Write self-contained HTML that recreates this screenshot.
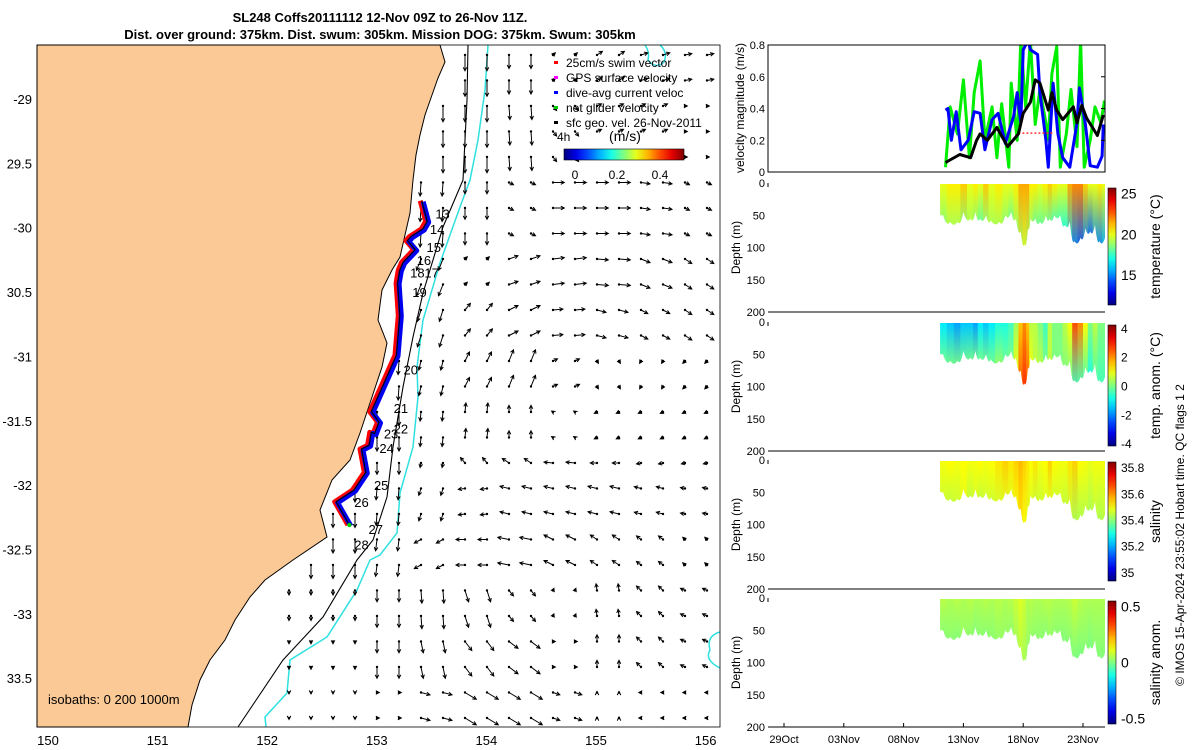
<!DOCTYPE html>
<html><head><meta charset="utf-8"><style>
body{margin:0;background:#fff}svg{display:block;font-family:"Liberation Sans",sans-serif}
</style></head><body>
<svg id="s" width="1200" height="750" viewBox="0 0 1200 750">
<defs id="defs"></defs>
<text x="380" y="22" text-anchor="middle" font-weight="bold" font-size="13">SL248 Coffs20111112 12-Nov 09Z to 26-Nov 11Z.</text>
<text x="380" y="39" text-anchor="middle" font-weight="bold" font-size="13">Dist. over ground: 375km. Dist. swum: 305km. Mission DOG: 375km. Swum: 305km</text>
<g id="map"></g>
<g id="right"></g>
<text transform="translate(1184,535) rotate(-90)" text-anchor="middle" font-size="12">© IMOS 15-Apr-2024 23:55:02 Hobart time. QC flags 1  2</text>
</svg>
<script>
// ---- map data ----
const lonTicks=[150,151,152,153,154,155,156];
const latTicks=[-29,-29.5,-30,-30.5,-31,-31.5,-32,-32.5,-33,-33.5];
const latTickLabels=["-29","29.5","-30","30.5","-31","-31.5","-32","-32.5","-33","33.5"];
const fieldLats=[-28.8,-29.3,-29.8,-30.3,-30.7,-31.1,-31.5,-31.8,-32.1,-32.5,-32.9,-33.3,-33.7];
const fieldLons=[152.6,153.1,153.6,154.0,154.4,154.8,155.2,155.6,156.0];
const fieldU=[
[0,0,0,0,0,0.05,0.12,0.15,0.15],
[0,0,0,0,0.02,0.08,0.1,0.1,0.05],
[0,0,-0.02,0,0.1,0.25,0.25,0.2,0.1],
[0,0,-0.1,0.05,0.2,0.25,0.25,0.2,0.15],
[0,0,-0.08,0.12,0.2,0.22,0.2,0.15,0.15],
[0,-0.02,-0.05,0.1,0.1,0.1,0.03,-0.03,-0.05],
[0,0,-0.02,0.02,0,-0.03,-0.06,-0.06,-0.06],
[0,0,-0.02,-0.1,-0.15,-0.2,-0.15,-0.1,-0.08],
[0,-0.02,-0.05,-0.15,-0.2,-0.2,-0.2,-0.15,-0.1],
[0,-0.03,-0.15,-0.2,-0.25,-0.2,-0.15,-0.1,-0.05],
[0,0,0.02,0.08,0.1,0.02,-0.02,-0.1,-0.1],
[0,0,0.05,0.15,0.2,0.05,0,-0.1,-0.1],
[0,0.05,0.2,0.25,0.25,0.15,0,-0.05,-0.05]];
const fieldV=[
[-0.3,-0.3,-0.35,-0.35,-0.3,0.05,0.08,0.05,0.03],
[-0.3,-0.3,-0.35,-0.35,-0.3,-0.1,0.05,0.05,0],
[-0.3,-0.3,-0.3,-0.25,-0.05,0,0,-0.03,-0.05],
[-0.3,-0.3,-0.25,0.05,0.07,0.03,-0.02,-0.08,-0.1],
[-0.3,-0.3,-0.25,0.15,0.1,0.02,-0.05,-0.08,-0.1],
[-0.3,-0.3,-0.2,0.2,0.25,0.05,-0.05,-0.05,-0.05],
[-0.3,-0.3,-0.2,0.2,0.15,0.02,-0.03,-0.03,-0.03],
[-0.3,-0.25,-0.1,0.12,0.1,0.02,0,-0.02,-0.02],
[-0.3,-0.25,-0.15,-0.02,0.05,0.05,0.05,0.04,0.02],
[-0.3,-0.25,-0.08,0,0.05,0.1,0.1,0.08,0.05],
[-0.1,-0.25,-0.28,-0.25,-0.12,0.05,0.15,0.1,0.05],
[-0.05,-0.25,-0.25,-0.2,-0.15,0,0.15,0.1,0.05],
[-0.03,0,-0.05,-0.15,-0.15,-0.05,0.02,0,0]];
const trackLon=[153.41,153.46,153.42,153.31,153.28,153.35,153.24,153.21,153.19,153.21,153.18,153.07,152.95,153.02,152.98,152.95,152.93,152.86,152.9,152.79,152.63,152.75];
const trackLat=[-29.79,-29.95,-30.01,-30.07,-30.1,-30.17,-30.27,-30.33,-30.43,-30.68,-30.99,-31.2,-31.43,-31.51,-31.6,-31.59,-31.69,-31.72,-31.9,-32.04,-32.13,-32.31];
const dayLabels=["13","14","15","16","18","17","19","20","21","22","23","24","25","26","27","28"];
const dayLon=[153.6,153.55,153.52,153.43,153.37,153.5,153.39,153.31,153.22,153.22,153.13,153.09,153.04,152.86,152.99,152.86];
const dayLat=[-29.89,-30.01,-30.15,-30.25,-30.35,-30.35,-30.5,-31.1,-31.4,-31.56,-31.6,-31.71,-32.0,-32.13,-32.34,-32.46];
// ---- time series data (t = days since 29 Oct) ----
const timeTicks=[0,5,10,15,20,25];
const timeTickLabels=["29Oct","03Nov","08Nov","13Nov","18Nov","23Nov"];
const velTicks=[0,0.2,0.4,0.6,0.8];
const blackT=[13.5,14.7,15.6,16.1,16.4,17.0,17.8,18.7,19.6,20.0,20.6,21.0,21.4,22.1,22.4,22.8,23.3,24.2,24.5,24.9,25.3,26.2,26.7];
const blackV=[0.06,0.11,0.09,0.2,0.24,0.2,0.28,0.16,0.24,0.37,0.44,0.58,0.56,0.39,0.5,0.39,0.33,0.41,0.31,0.42,0.34,0.23,0.36];
const blueT=[13.5,13.7,14.0,14.4,14.8,15.4,15.9,16.4,16.8,17.4,17.9,18.5,19.2,19.5,19.8,20.0,20.4,20.6,21.2,21.4,21.9,22.1,22.5,22.9,23.3,23.9,24.5,24.7,25.2,25.6,26.2,26.6,26.7];
const blueV=[0.39,0.4,0.2,0.38,0.14,0.2,0.38,0.37,0.14,0.33,0.37,0.18,0.35,0.5,0.31,0.77,0.83,0.77,0.74,0.5,0.2,0.03,0.56,0.24,0.09,0.03,0.31,0.53,0.3,0.04,0.03,0.1,0.3];
const greenT=[13.5,13.9,14.5,15.0,15.5,15.9,16.4,16.8,17.4,17.8,18.2,18.8,19.0,19.5,19.8,20.2,20.6,21.0,21.4,21.9,22.1,22.4,22.8,23.1,23.6,24.0,24.5,24.8,25.1,25.6,26.0,26.5,26.8];
const greenV=[0.03,0.41,0.24,0.58,0.09,0.5,0.7,0.2,0.41,0.09,0.43,0.03,0.56,0.2,0.83,0.41,0.83,0.3,0.52,0.31,0.2,0.62,0.79,0.03,0.24,0.52,0.16,0.83,0.03,0.2,0.41,0.31,0.45];
const redT=[19.6,22.6];
const redV=[0.245,0.245];
const depthTicks=[0,50,100,150,200];
const hmT=[13.3,13.9,14.5,15.0,15.6,16.0,16.4,16.9,17.3,18.0,18.5,19.0,19.4,19.8,20.1,20.4,20.6,21.0,21.4,21.9,22.2,22.6,23.1,23.5,23.9,24.3,24.8,25.2,25.6,26.0,26.4,26.8];
const hmDepth=[50,60,60,45,55,45,55,50,58,60,50,45,55,75,95,70,55,55,60,50,55,50,50,65,60,90,85,70,75,65,90,85];
const tempTop=[20,20.5,20.5,21,20,20.5,20,21,20,20.5,20,20,20.5,21.5,21.5,21.5,20.5,20.5,20,20.5,21,20.5,20,20,21.5,22,22,21,20,20,20.5,20];
const tempBot=[18.5,19,19,18.5,19,18.5,18,18.5,19,19,18.5,18,18.5,19,19.5,19,18.5,18,18,18,18,17.5,17,17,16,15,14.5,15,14.5,15,15,15.5];
const anomTop=[-1.2,-1.5,-1.8,-1.5,-1.5,-1.8,-1.2,-1.5,-1.2,-0.8,-0.8,-0.5,0.3,1.5,2,1.5,0.5,0.5,0,-0.5,0.5,0,0,0.5,1,2.5,2,1,0,0.5,0,0];
const anomBot=[0,0,0,0,0,0,0,0,0,0.3,0,0,1,2.5,2.8,2.5,1,0.5,0.5,0,0.5,0,0,0,-0.3,-0.5,-0.5,-0.5,-0.8,-0.5,-0.5,-0.5];
const salTop=[35.49,35.5,35.49,35.5,35.49,35.49,35.5,35.49,35.5,35.52,35.54,35.52,35.54,35.56,35.54,35.52,35.5,35.52,35.49,35.5,35.54,35.5,35.49,35.49,35.52,35.54,35.5,35.49,35.48,35.49,35.49,35.49];
const salBot=[35.45,35.44,35.45,35.47,35.44,35.46,35.44,35.45,35.45,35.46,35.47,35.47,35.49,35.52,35.49,35.47,35.46,35.45,35.45,35.46,35.47,35.45,35.45,35.44,35.44,35.42,35.42,35.43,35.42,35.43,35.42,35.43];
const saTop=[0.06,0.05,0.06,0.05,0.06,0.05,0.05,0.06,0.05,0.06,0.05,0.06,0.08,0.1,0.08,0.05,0.06,0.05,0.05,0.06,0.06,0.05,0.05,0.05,0.06,0.08,0.06,0.05,0.05,0.05,0.05,0.05];
const saBot=[0,0.01,0,0.02,0.01,0,0.01,0,0.01,0.02,0.02,0.01,0.03,0.05,0.04,0.02,0.01,0.01,0.01,0,0.02,0.01,0,0,-0.01,-0.01,-0.01,0,-0.01,0,0,0];
const tempCbTicks=[15,20,25],anomCbTicks=[-4,-2,0,2,4],salCbTicks=[35,35.2,35.4,35.6,35.8],saCbTicks=[-0.5,0,0.5];
const salCbLabels=["35","35.2","35.4","35.6","35.8"];

const NS='http://www.w3.org/2000/svg';
function mk(tag,attrs,parent,txt){const e=document.createElementNS(NS,tag);for(const k in attrs)e.setAttribute(k,attrs[k]);if(txt!==undefined)e.textContent=txt;parent.appendChild(e);return e;}
function jet(v){v=Math.max(0,Math.min(1,v));const r=Math.max(0,Math.min(1,1.5-Math.abs(4*v-3))),g=Math.max(0,Math.min(1,1.5-Math.abs(4*v-2))),b=Math.max(0,Math.min(1,1.5-Math.abs(4*v-1)));return `rgb(${Math.round(r*255)},${Math.round(g*255)},${Math.round(b*255)})`;}
const defs=document.getElementById('defs');
function jetGrad(id,x1,y1,x2,y2){const g=mk('linearGradient',{id:id,x1:x1,y1:y1,x2:x2,y2:y2},defs);for(let i=0;i<=10;i++)mk('stop',{offset:i/10,'stop-color':jet(i/10)},g);}
jetGrad('jetH',0,0,1,0);jetGrad('jetV',0,1,0,0);

// ---- map ----
const map=document.getElementById('map');
const lonX=l=>48+(l-150)*109.6, latY=la=>99+(-29-la)*128.7;
const MX0=37,MX1=720,MY0=45,MY1=727;
const coast=[[440,45],[445,62],[438,78],[432,95],[425,115],[420,135],[416,155],[413,180],[410,213],[400,257],[392,270],[382,290],[378,320],[387,343],[382,367],[370,403],[360,433],[350,460],[332,480],[320,510],[327,537],[293,560],[265,580],[250,597],[235,620],[225,640],[210,660],[200,680],[192,705],[188,727]];
let d=`M${MX0},${MY0} `+coast.map(p=>`L${p[0]},${p[1]}`).join(' ')+` L${MX0},${MY1} Z`;
let land=mk('path',{d:d,fill:'#fac996',stroke:'#000','stroke-width':1},map);

const iso200=[[468,45],[467,100],[463,180],[443,227],[423,293],[413,337],[403,387],[393,447],[387,497],[373,540],[357,560],[323,617],[283,660],[238,727]];
const isoC=[[488,45],[485,90],[478,140],[470,180],[460,207],[440,263],[423,320],[417,367],[418,397],[413,447],[400,493],[397,533],[380,555],[370,560],[357,590],[327,637],[290,660],[287,693],[265,717],[266,727]];
let p=mk('polyline',{points:iso200.map(q=>q.join(',')).join(' '),fill:'none',stroke:'#000','stroke-width':1.1},map);

p=mk('polyline',{points:isoC.map(q=>q.join(',')).join(' '),fill:'none',stroke:'#2ee0e0','stroke-width':1.5},map);

p=mk('path',{d:'M645,45 Q650,52 648,60 Q656,70 664,62 Q668,52 660,45',fill:'none',stroke:'#2ee0e0','stroke-width':1.5},map);

p=mk('path',{d:'M720,632 Q706,636 710,650 Q704,660 720,668',fill:'none',stroke:'#2ee0e0','stroke-width':1.5},map);

function coastX(y){for(let i=0;i<coast.length-1;i++){const a=coast[i],b=coast[i+1];if(y>=a[1]&&y<=b[1])return a[0]+(b[0]-a[0])*(y-a[1])/(b[1]-a[1]);}return 188;}
const arrows=mk('g',{},map);

function nearest(arr,v){let bi=0;for(let i=1;i<arr.length;i++)if(Math.abs(arr[i]-v)<Math.abs(arr[bi]-v))bi=i;return bi;}
for(let y=55;y<722;y+=25.5){for(let x=289;x<715;x+=22){if(x<coastX(y)+8)continue;
 const lon=150+(x-48)/109.6, lat=-29-(y-99)/128.7;const ri=nearest(fieldLats,lat),ci=nearest(fieldLons,lon);
 const u=fieldU[ri][ci],v=fieldV[ri][ci];const dx=u*45,dy=-v*45;const L=Math.hypot(dx,dy)||1;
 const ex=x+dx,ey=y+dy,ux=dx/L,uy=dy/L;
 const a=mk('path',{d:`M${x.toFixed(1)},${y.toFixed(1)}L${ex.toFixed(1)},${ey.toFixed(1)}M${(ex-3.5*ux+1.8*uy).toFixed(1)},${(ey-3.5*uy-1.8*ux).toFixed(1)}L${ex.toFixed(1)},${ey.toFixed(1)}L${(ex-3.5*ux-1.8*uy).toFixed(1)},${(ey-3.5*uy+1.8*ux).toFixed(1)}`,stroke:'#000','stroke-width':1,fill:'none'},arrows);
 
 const c=mk('circle',{cx:x,cy:y,r:1.2,fill:'#000'},arrows);
 }}
const tpts=trackLon.map((l,i)=>`${lonX(l).toFixed(1)},${latY(trackLat[i]).toFixed(1)}`).join(' ');
const tpR=trackLon.map((l,i)=>`${(lonX(l)-1.5).toFixed(1)},${latY(trackLat[i]).toFixed(1)}`).join(' ');
const tpB=trackLon.map((l,i)=>`${(lonX(l)+1.5).toFixed(1)},${(latY(trackLat[i])+1).toFixed(1)}`).join(' ');
p=mk('polyline',{points:tpR,fill:'none',stroke:'#f00','stroke-width':5,'stroke-linejoin':'round'},map);
p=mk('polyline',{points:tpB,fill:'none',stroke:'#0000f0','stroke-width':5,'stroke-linejoin':'round'},map);
p=mk('polyline',{points:tpts,fill:'none',stroke:'#000','stroke-width':1.1},map);
p=mk('circle',{cx:lonX(trackLon[trackLon.length-1]),cy:latY(trackLat[trackLat.length-1]),r:2.2,fill:'#0c0'},map);
dayLabels.forEach((t,i)=>{const e=mk('text',{x:lonX(dayLon[i]),y:latY(dayLat[i])+5,'font-size':13,'text-anchor':'middle'},map,t);});
p=mk('rect',{x:MX0,y:MY0,width:MX1-MX0,height:MY1-MY0,fill:'none',stroke:'#000','stroke-width':0.8},map);
lonTicks.forEach(l=>{const e=mk('text',{x:lonX(l),y:745,'font-size':13,'text-anchor':'middle'},map,String(l));});
latTicks.forEach((l,i)=>{const e=mk('text',{x:32,y:latY(l)+5,'font-size':13,'text-anchor':'end'},map,latTickLabels[i]);});
p=mk('text',{x:48,y:704,'font-size':13},map,'isobaths: 0   200  1000m');p.setAttribute('xml:space','preserve');
// legend
const legItems=[['25cm/s swim vector','#f00'],['GPS surface velocity','#f0f'],['dive-avg current veloc','#00f'],['net glider velocity','#0c0'],['sfc geo. vel. 26-Nov-2011','#000']];
legItems.forEach((it,i)=>{const y=63+i*15;const m=mk('rect',{x:554,y:y-2,width:4,height:3,fill:it[1]},map);
 const t=mk('text',{x:566,y:y+4,'font-size':12},map,it[0]);});
p=mk('text',{x:557,y:141,'font-size':12},map,'4h');
p=mk('text',{x:625,y:141,'font-size':14,'text-anchor':'middle'},map,'(m/s)');
p=mk('rect',{x:564,y:149,width:120,height:11,fill:'url(#jetH)',stroke:'#000','stroke-width':0.6},map);
[['0',575],['0.2',617],['0.4',660]].forEach(a=>{const t=mk('text',{x:a[1],y:179,'font-size':12,'text-anchor':'middle'},map,a[0]);});

// ---- right panels ----
const R=document.getElementById('right');
const AX0=768,AX1=1105,tX=t=>784+t*11.96;
const VY0=45,VY1=172,vY=v=>VY1-v/0.8*(VY1-VY0);
function series(T,V,col,w,name,dash){const e=mk('polyline',{points:T.map((t,i)=>`${tX(t).toFixed(1)},${vY(V[i]).toFixed(1)}`).join(' '),fill:'none',stroke:col,'stroke-width':w,'stroke-linejoin':'round','clip-path':'url(#vclip)'},R);if(dash)e.setAttribute('stroke-dasharray',dash);}
const clip=mk('clipPath',{id:'vclip'},defs);mk('rect',{x:AX0,y:VY0,width:AX1-AX0,height:VY1-VY0},clip);
series(greenT,greenV,'#0e0',3,'net-glider-velocity-series');
series(blueT,blueV,'#00f',3,'dive-avg-current-series');
series(redT,redV,'#f33',1.5,'swim-vector-series','2,2');
series(blackT,blackV,'#000',3,'sfc-geo-velocity-series');
p=mk('rect',{x:AX0,y:VY0,width:AX1-AX0,height:VY1-VY0,fill:'none',stroke:'#000','stroke-width':1},R);
velTicks.forEach(v=>{const t=mk('text',{x:765,y:vY(v)+4,'font-size':11,'text-anchor':'end'},R,String(v));
 const k=mk('line',{x1:AX1-4,x2:AX1,y1:vY(v),y2:vY(v),stroke:'#000'},R);});
p=mk('text',{transform:'translate(744,108) rotate(-90)','font-size':12,'text-anchor':'middle'},R,'velocity magnitude (m/s)');
const panels=[
 {y0:183,top:tempTop,bot:tempBot,lo:11.3,hi:25.7,cb0:188,cb1:305,ticks:tempCbTicks,labels:null,title:'temperature (°C)',name:'temperature'},
 {y0:322,top:anomTop,bot:anomBot,lo:-4.2,hi:4.2,cb0:325,cb1:446,ticks:anomCbTicks,labels:null,title:'temp. anom. (°C)',name:'temp-anomaly'},
 {y0:460,top:salTop,bot:salBot,lo:34.93,hi:35.84,cb0:462,cb1:581,ticks:salCbTicks,labels:salCbLabels,title:'salinity',name:'salinity'},
 {y0:598,top:saTop,bot:saBot,lo:-0.55,hi:0.55,cb0:601,cb1:724,ticks:saCbTicks,labels:null,title:'salinity anom.',name:'salinity-anomaly'}];
const PH=129;
panels.forEach((P,pi)=>{const dY=dd=>P.y0+dd/200*PH;
 const cp=mk('clipPath',{id:'hc'+pi},defs);
 let pd=`M${tX(hmT[0])-3},${P.y0+1} L${AX1},${P.y0+1} L${AX1},${dY(hmDepth[hmDepth.length-1])}`;
 for(let i=hmT.length-1;i>0;i--){const xa=tX(hmT[i]),xb=tX(hmT[i-1]);pd+=` Q${((xa+xb)/2).toFixed(1)},${(dY(Math.max(hmDepth[i],hmDepth[i-1]))+6).toFixed(1)} ${xb.toFixed(1)},${dY(hmDepth[i-1]).toFixed(1)}`;}
 pd+=` L${tX(hmT[0])-3},${dY(hmDepth[0])} Z`;mk('path',{d:pd},cp);
 const g=mk('g',{'clip-path':`url(#hc${pi})`},R);
 for(let i=0;i<hmT.length;i++){const x0=i===0?tX(hmT[0])-4:(tX(hmT[i-1])+tX(hmT[i]))/2;const x1=i===hmT.length-1?AX1:(tX(hmT[i])+tX(hmT[i+1]))/2;
  const gid=`g${pi}_${i}`;const lg=mk('linearGradient',{id:gid,x1:0,y1:0,x2:0,y2:1},defs);
  mk('stop',{offset:0,'stop-color':jet((P.top[i]-P.lo)/(P.hi-P.lo))},lg);mk('stop',{offset:1,'stop-color':jet((P.bot[i]-P.lo)/(P.hi-P.lo))},lg);
  const r=mk('rect',{x:x0.toFixed(1),y:P.y0+1,width:(x1-x0+0.6).toFixed(1),height:(dY(Math.max(hmDepth[i],hmDepth[Math.max(0,i-1)],hmDepth[Math.min(hmT.length-1,i+1)]))-P.y0+8).toFixed(1),fill:`url(#${gid})`},g);
  }
 const b=mk('line',{x1:AX0,x2:AX1,y1:P.y0+PH,y2:P.y0+PH,stroke:'#000'},R);
 const lft=mk('line',{x1:AX0,x2:AX0,y1:P.y0,y2:P.y0+4,stroke:'#000'},R);
 depthTicks.forEach(dd=>{const t=mk('text',{x:765,y:dY(dd)+4,'font-size':11,'text-anchor':'end'},R,String(dd));});
 const yt=mk('text',{transform:`translate(740,${P.y0+PH/2}) rotate(-90)`,'font-size':12,'text-anchor':'middle'},R,'Depth (m)');
 const cb=mk('rect',{x:1108,y:P.cb0,width:8,height:P.cb1-P.cb0,fill:'url(#jetV)',stroke:'#000','stroke-width':0.6},R);
 P.ticks.forEach((v,k)=>{const y=P.cb1-(v-P.lo)/(P.hi-P.lo)*(P.cb1-P.cb0);const t=mk('text',{x:1121,y:y+5,'font-size':P.ticks.length>3?12:14},R,P.labels?P.labels[k]:String(v));});
 const ct=mk('text',{transform:`translate(1160,${(P.cb0+P.cb1)/2}) rotate(-90)`,'font-size':14,'text-anchor':'middle'},R,P.title);
});
timeTicks.forEach((t,i)=>{const x=tX(t);const k=mk('line',{x1:x,x2:x,y1:723,y2:727,stroke:'#000'},R);
 const l=mk('text',{x:x,y:743,'font-size':11,'text-anchor':'middle'},R,timeTickLabels[i]);});
</script>
</body></html>
